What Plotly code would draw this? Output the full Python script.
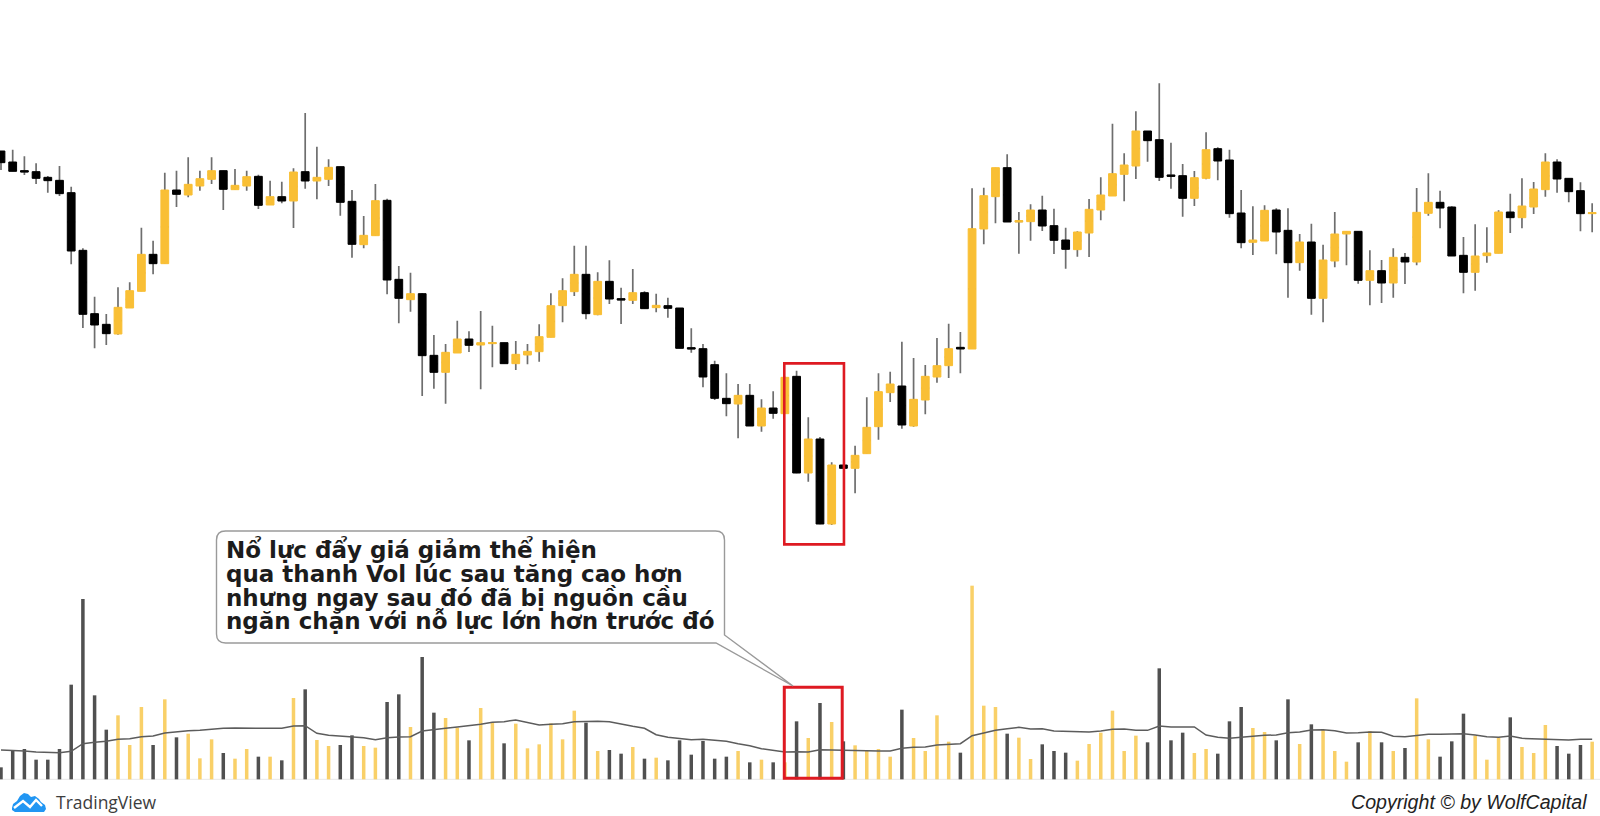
import plotly.graph_objects as go

# Prices and volumes in chart units
highs = [1995,1999,1979,1958,1920,1950,1888,1703,1558,1506,1586,1601,1765,1726,1930,1936,1976,1936,1976,1936,1941,1936,1924,1906,1903,1943,2109,2008,1970,1948,1878,1800,1896,1852,1650,1630,1568,1443,1416,1486,1454,1515,1471,1420,1425,1416,
         1475,1568,1613,1711,1711,1631,1667,1585,1641,1574,1567,1555,1524,1463,1416,1366,1328,1296,1296,1250,1274,1318,1336,1196,1137,1061,1053,1111,1256,1328,1333,1423,1374,1353,1434,1477,1452,1883,1885,1945,1985,1812,1835,1861,1822,
         1765,1754,1851,1916,2077,1988,2114,2055,2198,2020,1956,1935,2051,2006,1999,1878,1829,1832,1823,1823,1746,1777,1714,1812,1754,1754,1697,1668,1703,1689,1884,1928,1876,1829,1737,1775,1766,1817,1867,1913,1902,1988,1970,1913,1901,1838]
opens = [1995,1962,1936,1933,1916,1907,1870,1697,1507,1475,1446,1524,1574,1685,1657,1878,1863,1890,1910,1936,1879,1890,1919,1833,1858,1845,1933,1905,1910,1948,1844,1714,1741,1847,1610,1549,1567,1382,1331,1389,1431,1413,1417,1420,1357,1383,
         1393,1436,1531,1573,1625,1504,1604,1552,1547,1570,1525,1531,1524,1405,1402,1354,1253,1236,1262,1170,1224,1207,1319,1029,1131,876,1053,1043,1087,1168,1270,1290,1170,1248,1317,1351,1406,1401,1761,1858,1945,1782,1783,1818,1771,
         1728,1699,1749,1818,1860,1925,1950,2055,2029,1923,1921,1853,1913,2002,1968,1809,1721,1725,1818,1757,1660,1722,1553,1665,1746,1754,1607,1636,1599,1676,1662,1808,1841,1827,1682,1631,1681,1688,1812,1795,1827,1879,1962,1913,1876,1807]
closes = [1960,1934,1932,1913,1906,1867,1695,1505,1473,1447,1526,1576,1685,1657,1878,1865,1895,1912,1936,1880,1892,1918,1832,1858,1845,1932,1905,1916,1946,1841,1715,1742,1846,1608,1553,1567,1381,1331,1391,1431,1412,1420,1420,1357,1385,1394,
          1438,1531,1576,1625,1507,1604,1551,1548,1570,1522,1532,1523,1403,1401,1317,1253,1237,1262,1170,1224,1208,1316,1029,1131,876,1053,1043,1082,1166,1273,1296,1173,1250,1319,1351,1402,1401,1762,1861,1945,1782,1786,1818,1770,1727,
          1700,1752,1820,1863,1927,1953,2055,2026,1916,1919,1853,1915,1999,1965,1807,1720,1728,1817,1752,1660,1722,1553,1668,1746,1754,1607,1636,1599,1676,1662,1811,1841,1824,1680,1631,1680,1689,1812,1795,1830,1881,1962,1911,1873,1807,1810]
lows = [1938,1934,1923,1896,1870,1860,1655,1464,1403,1413,1444,1524,1574,1625,1657,1827,1856,1876,1896,1818,1879,1876,1821,1833,1838,1764,1882,1850,1890,1801,1675,1703,1741,1565,1478,1513,1260,1282,1237,1389,1392,1280,1346,1357,1338,1355,
        1363,1436,1481,1560,1490,1502,1536,1476,1536,1522,1511,1495,1403,1390,1286,1248,1199,1133,1170,1153,1192,1207,1028,1003,875,873,1043,968,1087,1129,1242,1162,1168,1205,1300,1314,1328,1401,1715,1778,1782,1687,1726,1755,1686,
        1642,1678,1677,1787,1860,1844,1911,1963,1905,1882,1798,1830,1910,1907,1795,1703,1683,1725,1685,1555,1636,1504,1481,1646,1652,1597,1532,1539,1555,1596,1652,1801,1763,1680,1568,1576,1660,1688,1749,1763,1806,1858,1870,1841,1754,1751]
volumes = [36,88,91,59,59,91,284,541,252,149,192,103,217,103,240,126,137,63,120,79,62,91,68,68,57,244,270,118,100,103,132,100,95,232,255,157,367,200,184,155,117,214,170,108,167,93,
           105,168,120,206,170,85,88,77,97,62,65,57,117,74,115,62,68,85,51,59,51,51,174,124,229,172,114,102,88,91,68,209,124,85,192,113,80,581,221,217,137,125,61,105,85,
           80,56,106,140,206,85,131,111,333,117,140,79,91,77,174,217,154,142,117,240,106,165,148,85,53,111,145,111,85,94,243,120,68,114,197,131,59,125,186,97,79,163,100,77,103,113]
volume_avg = [88,87,85,82,81,80,84,107,111,114,120,122,128,130,139,143,146,147,151,153,154,153,153,153,153,160,161,138,132,129,127,125,119,125,127,128,145,150,153,157,160,165,171,173,178,170,
              163,165,167,173,174,174,173,165,159,153,134,126,122,119,120,116,114,107,101,92,86,82,83,82,89,88,86,85,85,85,85,93,96,97,103,106,107,131,139,147,152,156,151,152,145,
              144,142,142,145,150,151,147,147,160,157,157,157,133,126,123,127,129,132,133,140,142,148,149,146,139,140,142,141,129,128,132,135,135,135,137,133,128,126,130,123,122,121,119,118,120,120]
callout_lines = ["Nổ lực đẩy giá giảm thể hiện",
                 "qua thanh Vol lúc sau tăng cao hơn",
                 "nhưng ngay sau đó đã bị nguồn cầu",
                 "ngăn chặn với nỗ lực lớn hơn trước đó"]
brand_left = "TradingView"
brand_right = "Copyright © by WolfCapital"

GOLD, BLACK, WICK = "#f9bf35", "#000000", "#6e6e6e"
VOL_GOLD, VOL_DARK = "#f9d068", "#505050"
W, H = 1600, 816
idx = list(range(len(highs)))
body_hi = [max(o, c) for o, c in zip(opens, closes)]
body_lo = [min(o, c) for o, c in zip(opens, closes)]
body_mid = [(o + c) / 2 for o, c in zip(opens, closes)]
vol_colors = [VOL_GOLD if c >= o else VOL_DARK for o, c in zip(opens, closes)]


def px(x, y):
    return f"{x / W:.5f},{1 - y / H:.5f}"


def path(points, close=True):
    s = "M" + " L".join(px(*p) for p in points)
    return s + (" Z" if close else "")


fig = go.Figure()
fig.add_bar(x=idx, y=volumes, width=0.3, marker=dict(color=vol_colors, line_width=0), yaxis="y2", hoverinfo="skip")
fig.add_scatter(x=idx, y=volume_avg, mode="lines", yaxis="y2", line=dict(color="#5c5c5c", width=1.5), hoverinfo="skip")
# wicks: flat box hidden behind the body trace
fig.add_candlestick(x=idx, open=body_mid, high=highs, low=lows, close=body_mid, whiskerwidth=0,
                    increasing=dict(line=dict(color=WICK, width=1.7), fillcolor=WICK),
                    decreasing=dict(line=dict(color=WICK, width=1.7), fillcolor=WICK), hoverinfo="skip")
# bodies
fig.add_candlestick(x=idx, open=opens, high=body_hi, low=body_lo, close=closes, whiskerwidth=0,
                    increasing=dict(line=dict(color=GOLD, width=1), fillcolor=GOLD),
                    decreasing=dict(line=dict(color=BLACK, width=1), fillcolor=BLACK), hoverinfo="skip")

red = dict(color="#de1a22", width=2.6)
shapes = [
    dict(type="line", xref="paper", yref="y2", x0=0, x1=1, y0=0, y1=0, line=dict(color="#e8e8e8", width=1), layer="below"),
    dict(type="rect", xref="x", yref="y", x0=66.95, x1=72.05, y0=815, y1=1358, line=red),
    dict(type="rect", xref="x", yref="y2", x0=66.95, x1=71.9, y0=3, y1=276, line=dict(color="#de1a22", width=3)),
]
# Callout: rounded box with its tail pointing down at the volume rectangle
L, T, R, B, r = 216.5, 531, 724.5, 643, 9
callout = (f"M{px(L + r, T)} L{px(R - r, T)} Q{px(R, T)} {px(R, T + r)} L{px(R, 635)} L{px(793, 686)} "
           f"L{px(716, B)} L{px(L + r, B)} Q{px(L, B)} {px(L, B - r)} L{px(L, T + r)} Q{px(L, T)} {px(L + r, T)} Z")
shapes.append(dict(type="path", xref="paper", yref="paper", path=callout, fillcolor="#ffffff",
                   line=dict(color="#9a9a9a", width=1.4)))
# TradingView mark
cloud = [(12, 808), (13, 804), (17, 801), (20, 796), (24, 793), (28, 794), (31, 797), (35, 796), (39, 799), (41, 802),
         (45, 805), (46, 809), (44, 812), (15, 812), (12, 810)]
shapes.append(dict(type="path", xref="paper", yref="paper", path=path(cloud), fillcolor="#2196f3", line_width=0))
shapes.append(dict(type="path", xref="paper", yref="paper",
                   path=path([(14, 808), (23, 801), (30, 807), (36, 800), (42, 806)], close=False),
                   line=dict(color="#ffffff", width=2.4)))
fig.update_layout(shapes=shapes)

for line, y in zip(callout_lines, [549.5, 573.5, 597.5, 621]):
    fig.add_annotation(text=line, xref="paper", yref="paper", x=224 / W, y=1 - y / H, xanchor="left", yanchor="middle",
                       showarrow=False, align="left",
                       font=dict(family="DejaVu Sans", size=23, color="#1c1c1c", weight="bold"))
fig.add_annotation(text=brand_left, xref="paper", yref="paper", x=54 / W, y=1 - 802 / H, xanchor="left", yanchor="middle",
                   showarrow=False, font=dict(family="Open Sans", size=17.5, color="#3d3d3d"))
fig.add_annotation(text=brand_right, xref="paper", yref="paper", x=1589 / W, y=1 - 802 / H, xanchor="right", yanchor="middle",
                   showarrow=False, font=dict(family="Liberation Sans", size=19.6, color="#222222", style="italic"))

fig.update_layout(
    width=W, height=H, autosize=False, margin=dict(l=0, r=0, t=0, b=0),
    paper_bgcolor="#ffffff", plot_bgcolor="#ffffff", showlegend=False, boxgap=0.05,
    xaxis=dict(range=[-0.085, 136.67], visible=False, rangeslider=dict(visible=False), fixedrange=True),
    yaxis=dict(range=[0, 2448], visible=False, fixedrange=True),
    yaxis2=dict(range=[-110, 2338], visible=False, overlaying="y", fixedrange=True),
)
assert len(highs) == len(opens) == len(closes) == len(lows) == len(volumes) == len(volume_avg)
fig.write_html("out.html", config=dict(displayModeBar=False),
               post_script="document.body.style.margin='0';document.body.style.overflow='hidden';")
